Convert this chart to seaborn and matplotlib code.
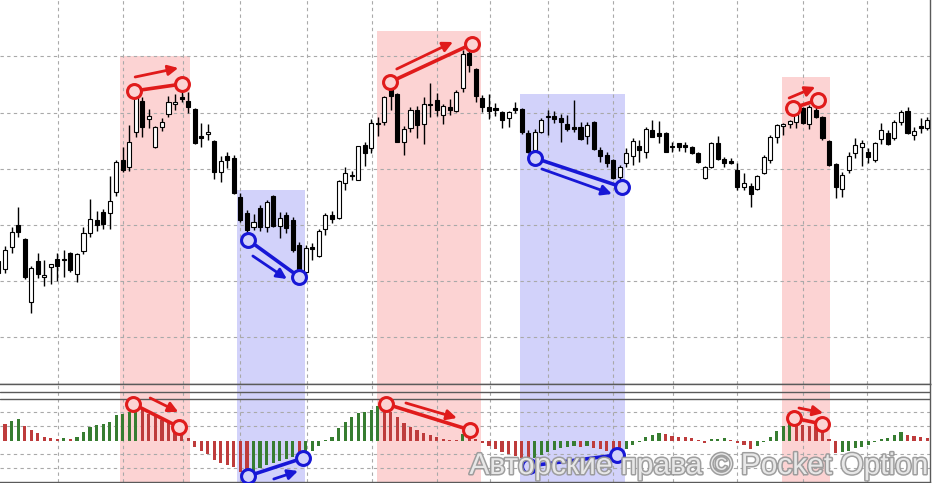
import matplotlib
matplotlib.use('Agg')

import numpy as np
import pandas as pd
import seaborn as sns
import matplotlib.pyplot as plt
import matplotlib.patheffects as pe

sns.set_theme(style='white')
plt.rcParams['font.family'] = ['Liberation Sans', 'DejaVu Sans']

# candle index (-1 is the half-cut bar on the left edge)
bar_idx = list(range(-1, 142))

# OHLC in price points, rows of 10 bars
opens = [139, 131, 153, 175, 161, 98, 139, 123, 133, 141,
         141, 147, 126, 149, 167, 180, 188, 187, 208, 240,
         233, 268, 299, 281, 253, 273, 286, 296, 303, 299,
         291, 264, 266, 259, 228, 244, 242, 203, 187, 173,
         192, 173, 204, 174, 185, 180, 155, 128, 153, 144,
         171, 185, 182, 217, 225, 220, 255, 252, 277, 278,
         311, 306, 258, 272, 290, 276, 296, 300, 285, 293,
         289, 312, 347, 331, 302, 293, 292, 288, 282, 292,
         291, 267, 250, 268, 283, 284, 282, 276, 273, 273,
         264, 278, 250, 245, 240, 223, 237, 244, 254, 248,
         270, 267, 267, 254, 257, 255, 253, 247, 222, 233,
         257, 241, 239, 230, 213, 214, 211, 227, 240, 263,
         274, 276, 278, 292, 276, 290, 283, 259, 236, 211,
         230, 247, 253, 248, 240, 261, 267, 262, 278, 289,
         265, 274, 272]
highs = [145, 154, 173, 193, 162, 134, 147, 140, 136, 147,
         150, 148, 147, 173, 201, 189, 191, 224, 240, 253,
         275, 307, 303, 291, 274, 282, 304, 306, 309, 308,
         292, 277, 276, 260, 244, 248, 245, 207, 190, 186,
         195, 200, 205, 188, 188, 183, 158, 155, 157, 171,
         187, 189, 220, 233, 229, 254, 258, 281, 283, 304,
         313, 307, 274, 293, 294, 303, 317, 307, 296, 301,
         310, 350, 352, 332, 305, 306, 297, 289, 289, 298,
         292, 270, 271, 282, 290, 289, 286, 285, 300, 278,
         278, 279, 253, 248, 241, 235, 252, 262, 260, 273,
         280, 279, 268, 258, 257, 258, 254, 248, 234, 258,
         264, 243, 242, 237, 227, 217, 225, 245, 265, 276,
         277, 280, 293, 293, 295, 293, 284, 260, 237, 228,
         248, 262, 260, 252, 258, 277, 270, 280, 290, 293,
         273, 282, 283]
lows = [122, 127, 147, 163, 121, 87, 122, 114, 116, 119,
        123, 128, 118, 146, 163, 169, 171, 171, 204, 228,
        229, 263, 263, 272, 252, 269, 283, 290, 298, 287,
        256, 253, 260, 221, 218, 232, 206, 178, 167, 170,
        169, 168, 173, 162, 167, 148, 123, 126, 140, 143,
        165, 177, 181, 210, 220, 220, 234, 247, 264, 275,
        290, 258, 245, 268, 262, 256, 283, 284, 276, 285,
        288, 308, 328, 298, 288, 281, 284, 272, 273, 287,
        266, 247, 248, 267, 265, 277, 258, 269, 268, 260,
        256, 250, 238, 233, 221, 220, 233, 235, 238, 242,
        263, 257, 248, 248, 249, 248, 246, 237, 221, 232,
        240, 233, 236, 210, 210, 193, 210, 226, 237, 257,
        265, 272, 272, 276, 271, 282, 260, 234, 202, 203,
        227, 242, 234, 237, 238, 256, 255, 260, 275, 266,
        260, 267, 270]
closes = [127, 150, 168, 168, 123, 132, 126, 125, 136, 134,
          140, 130, 146, 167, 181, 175, 176, 199, 238, 230,
          258, 303, 273, 284, 273, 278, 298, 298, 301, 293,
          257, 262, 268, 228, 239, 240, 207, 180, 170, 178,
          173, 198, 174, 182, 172, 150, 128, 152, 151, 169,
          185, 181, 219, 227, 224, 254, 247, 277, 276, 303,
          304, 258, 271, 290, 275, 296, 295, 290, 294, 290,
          308, 346, 335, 304, 293, 289, 290, 280, 288, 290,
          268, 248, 268, 280, 284, 281, 278, 271, 271, 261,
          275, 251, 244, 237, 222, 233, 247, 259, 250, 271,
          263, 264, 248, 253, 253, 253, 247, 238, 233, 257,
          241, 237, 237, 213, 217, 206, 224, 243, 263, 275,
          276, 279, 292, 277, 293, 283, 262, 235, 213, 225,
          244, 255, 257, 243, 257, 270, 256, 278, 288, 267,
          269, 272, 280]

# Awesome-oscillator style histogram
ao_values = [18, 17, 20, 22, 15, 11, 8, 4, 3, 2,
             3, 2, 4, 9, 14, 16, 17, 19, 26, 27,
             29, 34, 31, 27, 25, 21, 18, 16, 14, 3,
             -6, -10, -13, -19, -22, -24, -26, -31, -34, -30,
             -27, -24, -22, -20, -18, -16, -17, -13, -10, -5,
             1, 4, 13, 19, 24, 28, 29, 31, 35, 33,
             29, 24, 18, 14, 11, 8, 6, 4, 2, 1.5,
             1, 7, 6, 2, -2, -5, -8, -11, -13, -15,
             -17, -20, -17, -14, -11, -9, -7, -6, -5, -6,
             -5, -7, -8, -10, -12, -13, -8, -4, -1, 4,
             6, 8, 7, 5, 4.5, 4, 3, 1, -2, 2,
             2.5, 3, 1, -2, -4, -8, -5, -1, 4, 10,
             15, 18, 17, 16, 15, 14, 13, 2, -12, -11,
             -10, -7, -6, -4, -1, 2, 3, 6, 9, 6,
             5, 4, 3.5]

# highlighted zones (bar index range, top price, type)
zone_start = [17.6, 35.5, 56.9, 78.7, 118.8]
zone_end = [28.3, 45.9, 72.8, 94.8, 126.1]
zone_top = [344, 210, 369, 306, 323]
zone_kind = ['bear', 'bull', 'bear', 'bull', 'bear']

# divergence marks on price chart
price_pts_x = [(19.7, 27.1), (37.2, 45.0), (58.9, 71.4), (81.0, 94.3), (120.5, 124.3)]
price_pts_y = [(309, 316), (160, 123), (318, 356), (242, 213), (292, 300)]
price_arr_x = [(19.9, 26.5), (37.9, 43.1), (59.9, 68.5), (82.1, 92.8), (119.9, 123.9)]
price_arr_y = [(323, 332), (144, 121), (331, 358), (231, 206), (302, 313)]

# divergence marks on oscillator
ao_pts_x = [(19.6, 26.6), (37.2, 45.6), (58.3, 71.1), (80.1, 93.6), (120.6, 124.9)]
ao_pts_y = [(37, 14), (-35, -17), (37, 11), (-25, -14), (23, 17)]
ao_arr_x = [(22.2, 26.5), (41.1, 44.8), (61.3, 69.1), None, (121.4, 125.1)]
ao_arr_y = [(43, 29), (-38, -30), (38, 23), None, (33, 28)]

grid_x = [8.1, 18.0, 27.2, 35.9, 46.2, 56.1, 66.1, 74.2, 83.0, 93.0, 102.1, 111.9, 122.0, 131.8]
grid_price = [63, 119, 175, 231, 287, 344]
grid_ao = [-27, -13, 15, 29]

zone_fill = {'bear': '#fcd3d3', 'bull': '#d2d2fa'}
mark_col = {'bear': '#e01b1b', 'bull': '#1717d6'}

df = pd.DataFrame({'i': bar_idx, 'open': opens, 'high': highs,
                   'low': lows, 'close': closes, 'ao': ao_values})
df['up'] = df['close'] >= df['open']
df['ao_col'] = np.where(df['ao'].diff().fillna(-1) > 0, 'rise', 'fall')

fig = plt.figure(figsize=(9.32, 4.83), dpi=100)
ax = fig.add_axes([0, 99 / 483, 930 / 932, 384 / 483])
ax2 = fig.add_axes([0, 1 / 483, 930 / 932, 98 / 483])

xlim = (-0.765, 141.44)
spine_col = '#5a5a5a'
for a in (ax, ax2):
    a.set_facecolor('white')
    for s in ('left', 'top', 'right', 'bottom'):
        a.spines[s].set_color(spine_col)
        a.spines[s].set_linewidth(1)
    a.spines['left'].set_visible(False)
    a.set_axisbelow(True)
ax.spines['top'].set_visible(False)

# zones
for s, e, t, k in zip(zone_start, zone_end, zone_top, zone_kind):
    ax.fill_between([s, e], 16, t, color=zone_fill[k], lw=0, zorder=0)
    ax2.axvspan(s, e, color=zone_fill[k], lw=0, zorder=0)

# candles
ax.vlines(df['i'], df['low'], df['high'], color='black', lw=1, zorder=2)
body_lo = df[['open', 'close']].min(axis=1)
body_h = (df['close'] - df['open']).abs().clip(lower=0.8)
ax.bar(df['i'], body_h, bottom=body_lo, width=0.62,
       color=np.where(df['up'], 'white', 'black'), edgecolor='black',
       linewidth=0.8, zorder=3)

# oscillator bars
sns.barplot(data=df, x='i', y='ao', hue='ao_col', native_scale=True,
            palette={'rise': '#2c8a24', 'fall': '#d42626'}, width=0.48,
            legend=False, ax=ax2, zorder=3, linewidth=0)

# divergence lines, circles, arrows
def draw_marks(a, px, py, ax_, ay_, kinds):
    for (x, y, arx, ary, k) in zip(px, py, ax_, ay_, kinds):
        c = mark_col[k]
        a.plot(x, y, '-', color=c, lw=2.6, zorder=5, solid_capstyle='butt', clip_on=False)
        a.plot(x, y, 'o', ms=10, mew=2.2, mec=c, mfc=zone_fill[k], zorder=6, clip_on=False)
        if arx is not None:
            a.annotate('', xy=(arx[1], ary[1]), xytext=(arx[0], ary[0]),
                       arrowprops=dict(arrowstyle='-|>', color=c, lw=2,
                                       mutation_scale=15, shrinkA=0, shrinkB=0),
                       zorder=6, annotation_clip=False)

draw_marks(ax, price_pts_x, price_pts_y, price_arr_x, price_arr_y, zone_kind)
draw_marks(ax2, ao_pts_x, ao_pts_y, ao_arr_x, ao_arr_y, zone_kind)

grid_kw = dict(color='#a9a9a9', lw=0.8, ls=(0, (3, 3)))
ax.set_xlim(*xlim)
ax.set_ylim(16, 400)
ax.set_xticks(grid_x)
ax.set_yticks(grid_price)
ax.grid(True, **grid_kw)

ax2.set_xlim(*xlim)
ax2.set_ylim(-41, 57)
ax2.set_xticks(grid_x)
ax2.set_yticks(grid_ao)
ax2.grid(True, **grid_kw)
ax2.axhline(49, color=spine_col, lw=1, zorder=4)
ax2.axhline(42, color=spine_col, lw=1, zorder=4)

for a in (ax, ax2):
    a.tick_params(length=0, labelbottom=False, labelleft=False)
    a.set_xlabel('')
    a.set_ylabel('')

fig.text(699 / 932, 17 / 483, 'Авторские права © Pocket Option',
         ha='center', va='center', fontsize=21.5, color='#ececec', alpha=0.95,
         family=['Liberation Sans', 'DejaVu Sans'], zorder=10,
         path_effects=[pe.withStroke(linewidth=2.2, foreground='#999999')])

fig.savefig('out.png', dpi=100)
plt.close(fig)
